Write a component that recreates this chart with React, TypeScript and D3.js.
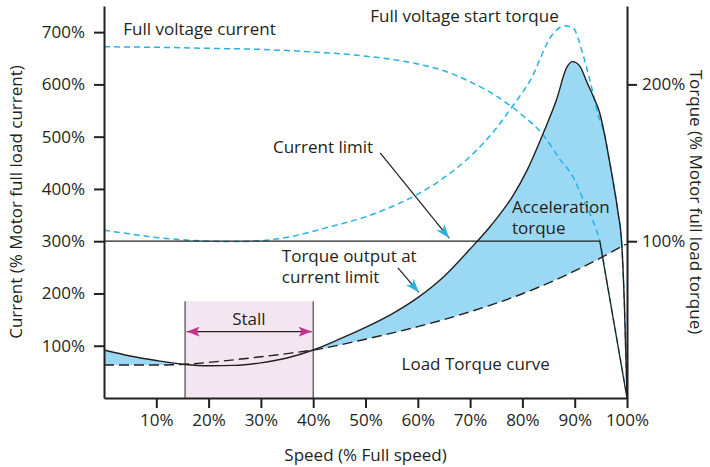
import React, { useEffect, useRef } from "react";
import * as d3 from "d3";

// axis ticks
const speedTicks = [10, 20, 30, 40, 50, 60, 70, 80, 90, 100];
const currentTicks = [100, 200, 300, 400, 500, 600, 700];
const torqueTicks = [100, 200];

// full voltage current (% motor FLC) vs speed
const fvSpeed = [0, 10, 20, 30, 40, 50, 60, 65, 70, 75, 78, 80, 84, 87, 90, 91, 94, 94.8, 96, 98, 100];
const fvCurrent = [672, 671, 669, 667, 662, 654, 639, 626, 605, 578, 557, 541, 503, 459, 417, 394, 325, 300, 231, 116, 3];

// current limit (% motor FLC)
const limitSpeed = [0, 94.8, 100];
const limitCurrent = [300, 300, 0];

// full voltage start torque (% motor FLT)
const startSpeed = [0, 5, 10, 15.5, 20, 25, 30, 35, 43, 50, 55, 60, 65, 70, 75, 78, 81.5, 85.7, 88.1, 89.7, 91.6, 92.9, 94.5, 95.8, 96.6, 97.5, 98.3, 99, 99.5, 100];
const startTorque = [107, 104.6, 102.4, 100.8, 100, 99.8, 100.3, 102.5, 109, 115.5, 122, 130, 140.5, 154, 172, 185.6, 202.6, 231.6, 237.4, 236, 218.8, 202.8, 180.5, 166.6, 152, 135, 118, 98, 60, 2];

// torque output at current limit (% motor FLT)
const outSpeed = [0, 5, 10, 15.5, 20, 25, 30, 35, 40, 45, 50, 55, 60, 65, 70, 74, 78, 81, 84, 86.5, 88.5, 89.6, 91, 92.3, 93.6, 94.8, 95.8, 96.6, 97.5, 98.3, 99, 99.5, 100];
const outTorque = [30.6, 26.8, 23.9, 21.4, 20.6, 20.8, 22.4, 25.5, 30.6, 37.5, 45, 53.5, 64, 77.5, 95, 110, 128, 146, 169, 190, 211, 214.5, 211.5, 201.7, 192, 181.6, 166.6, 152, 135, 118, 98, 60, 2];

// load torque curve (% motor FLT)
const loadSpeed = [0, 10, 15.5, 20, 25, 30, 35, 40, 50, 60, 70, 80, 90, 100];
const loadTorque = [21, 21, 21.5, 22.7, 24.4, 26.3, 28.3, 30.6, 37.5, 45.5, 55, 66.5, 81, 98.5];

// stall band (speed %) and its height (current %)
const stallRange = [15.5, 40];
const stallTop = 185;

const INK = "#231f20";
const CYAN = "#25b3e7";

const zip = (xs: number[], ys: number[]) => xs.map((s, i) => [s, ys[i]] as [number, number]);

const App = () => {
  const svgRef = useRef<SVGSVGElement>(null);

  useEffect(() => {
    const svg = d3.select(svgRef.current);
    svg.selectAll("*").remove();

    const width = 710;
    const height = 467;
    const margin = { top: 6, right: 83, bottom: 69, left: 104 };
    const left = margin.left;
    const right = width - margin.right;
    const top = margin.top;
    const bottom = height - margin.bottom;

    const x = d3.scaleLinear().domain([0, 100]).range([left, right]);
    const yCur = d3.scaleLinear().domain([0, 750]).range([bottom, top]);
    const yTq = d3.scaleLinear().domain([0, 250]).range([bottom, top]);

    const defs = svg.append("defs");
    defs
      .append("marker")
      .attr("id", "cyanHead")
      .attr("viewBox", "0 0 14 10")
      .attr("refX", 14)
      .attr("refY", 5)
      .attr("markerWidth", 14)
      .attr("markerHeight", 10)
      .attr("markerUnits", "userSpaceOnUse")
      .attr("orient", "auto")
      .append("path")
      .attr("d", "M0,0 L14,5 L0,10 L4,5 Z")
      .attr("fill", CYAN);
    defs
      .append("marker")
      .attr("id", "magHead")
      .attr("viewBox", "0 0 13 10")
      .attr("refX", 13)
      .attr("refY", 5)
      .attr("markerWidth", 13)
      .attr("markerHeight", 10)
      .attr("markerUnits", "userSpaceOnUse")
      .attr("orient", "auto-start-reverse")
      .append("path")
      .attr("d", "M0,0 L13,5 L0,10 L3,5 Z")
      .attr("fill", "#c4318f");

    const loadPts = zip(loadSpeed, loadTorque);
    const outPts = zip(outSpeed, outTorque);

    // clip = everything above the load curve
    defs
      .append("clipPath")
      .attr("id", "aboveLoad")
      .append("path")
      .attr(
        "d",
        d3
          .area<[number, number]>()
          .x((d) => x(d[0]))
          .y0(top)
          .y1((d) => yTq(d[1]))
          .curve(d3.curveMonotoneX)(loadPts)
      );

    // stall band
    svg
      .append("rect")
      .attr("x", x(stallRange[0]))
      .attr("y", yCur(stallTop))
      .attr("width", x(stallRange[1]) - x(stallRange[0]))
      .attr("height", bottom - yCur(stallTop))
      .attr("fill", "#f4e6f0");
    stallRange.forEach((s) => {
      svg
        .append("line")
        .attr("x1", x(s))
        .attr("x2", x(s))
        .attr("y1", yCur(stallTop))
        .attr("y2", bottom)
        .attr("stroke", "#4a4647")
        .attr("stroke-width", 1.2);
    });

    // acceleration torque fill (output above load)
    svg
      .append("path")
      .attr(
        "d",
        d3
          .area<[number, number]>()
          .x((d) => x(d[0]))
          .y0(bottom)
          .y1((d) => yTq(d[1]))
          .curve(d3.curveMonotoneX)(outPts)
      )
      .attr("fill", "#9bd8f4")
      .attr("clip-path", "url(#aboveLoad)");

    const curLine = d3
      .line<[number, number]>()
      .x((d) => x(d[0]))
      .y((d) => yCur(d[1]))
      .curve(d3.curveMonotoneX);
    const tqLine = d3
      .line<[number, number]>()
      .x((d) => x(d[0]))
      .y((d) => yTq(d[1]))
      .curve(d3.curveMonotoneX);

    // full voltage current
    svg
      .append("path")
      .attr("d", curLine(zip(fvSpeed, fvCurrent)))
      .attr("fill", "none")
      .attr("stroke", CYAN)
      .attr("stroke-width", 1.5)
      .attr("stroke-dasharray", "6,4");

    // full voltage start torque
    svg
      .append("path")
      .attr("d", tqLine(zip(startSpeed, startTorque)))
      .attr("fill", "none")
      .attr("stroke", CYAN)
      .attr("stroke-width", 1.5)
      .attr("stroke-dasharray", "6,4");

    // current limit
    svg
      .append("path")
      .attr(
        "d",
        d3
          .line<[number, number]>()
          .x((d) => x(d[0]))
          .y((d) => yCur(d[1]))(zip(limitSpeed, limitCurrent))
      )
      .attr("fill", "none")
      .attr("stroke", INK)
      .attr("stroke-width", 1.3);

    // load torque (dashed)
    svg
      .append("path")
      .attr("d", tqLine(loadPts))
      .attr("fill", "none")
      .attr("stroke", INK)
      .attr("stroke-width", 1.4)
      .attr("stroke-dasharray", "10,5");

    // torque output at current limit
    svg
      .append("path")
      .attr("d", tqLine(outPts))
      .attr("fill", "none")
      .attr("stroke", INK)
      .attr("stroke-width", 1.4);

    // axes
    const styleAxis = (g: d3.Selection<SVGGElement, unknown, null, undefined>) => {
      g.select(".domain").attr("stroke", INK).attr("stroke-width", 2);
      g.selectAll(".tick line").attr("stroke", INK).attr("stroke-width", 2);
      g.selectAll(".tick text")
        .attr("fill", INK)
        .style("font-size", "17px")
        .style("font-family", "'Open Sans', sans-serif");
    };

    svg
      .append("g")
      .attr("transform", `translate(0,${bottom})`)
      .call(
        d3
          .axisBottom(x)
          .tickValues(speedTicks)
          .tickSize(10)
          .tickSizeOuter(0)
          .tickPadding(6)
          .tickFormat((d) => `${d}%`)
      )
      .call(styleAxis);

    svg
      .append("g")
      .attr("transform", `translate(${left},0)`)
      .call(
        d3
          .axisLeft(yCur)
          .tickValues(currentTicks)
          .tickSize(10)
          .tickSizeOuter(0)
          .tickPadding(9)
          .tickFormat((d) => `${d}%`)
      )
      .call(styleAxis);

    svg
      .append("g")
      .attr("transform", `translate(${right},0)`)
      .call(
        d3
          .axisRight(yTq)
          .tickValues(torqueTicks)
          .tickSize(10)
          .tickSizeOuter(0)
          .tickPadding(5)
          .tickFormat((d) => `${d}%`)
      )
      .call(styleAxis);

    const text = (label: string, xPos: number, yPos: number, anchor = "start") =>
      svg
        .append("text")
        .attr("x", xPos)
        .attr("y", yPos)
        .attr("text-anchor", anchor)
        .attr("fill", INK)
        .style("font-size", "17px")
        .text(label);

    // axis titles
    text("Speed (% Full speed)", x(50), 461, "middle");
    text("Current (% Motor full load current)", 0, 0, "middle").attr(
      "transform",
      `translate(22,${(top + bottom) / 2}) rotate(-90)`
    );
    text("Torque (% Motor full load torque)", 0, 0, "middle").attr(
      "transform",
      `translate(690,${(top + bottom) / 2}) rotate(90)`
    );

    // annotations (speed %, current %)
    text("Full voltage current", x(3.7), yCur(694.5));
    text("Full voltage start torque", x(50.9), yCur(720));
    text("Current limit", x(32.3), yCur(469));
    text("Torque output at", x(34), yCur(261));
    text("current limit", x(34), yCur(220));
    text("Acceleration", x(78), yCur(353));
    text("torque", x(78), yCur(313));
    text("Load Torque curve", x(56.9), yCur(53.6));
    text("Stall", x(27.7), yCur(139.7), "middle");

    const arrow = (s0: number, c0: number, s1: number, c1: number) =>
      svg
        .append("line")
        .attr("x1", x(s0))
        .attr("y1", yCur(c0))
        .attr("x2", x(s1))
        .attr("y2", yCur(c1))
        .attr("stroke", INK)
        .attr("stroke-width", 1.2);

    arrow(52.8, 469, 66, 306).attr("marker-end", "url(#cyanHead)");
    arrow(56.2, 249, 60.2, 202).attr("marker-end", "url(#cyanHead)");
    arrow(stallRange[0] + 0.3, 127, stallRange[1] - 0.3, 127)
      .attr("marker-start", "url(#magHead)")
      .attr("marker-end", "url(#magHead)");
  }, []);

  return (
    <svg
      ref={svgRef}
      width={710}
      height={467}
      style={{ position: "absolute", left: 0, top: 0, fontFamily: "'Open Sans', sans-serif", background: "#fff" }}
    />
  );
};

export default App;
